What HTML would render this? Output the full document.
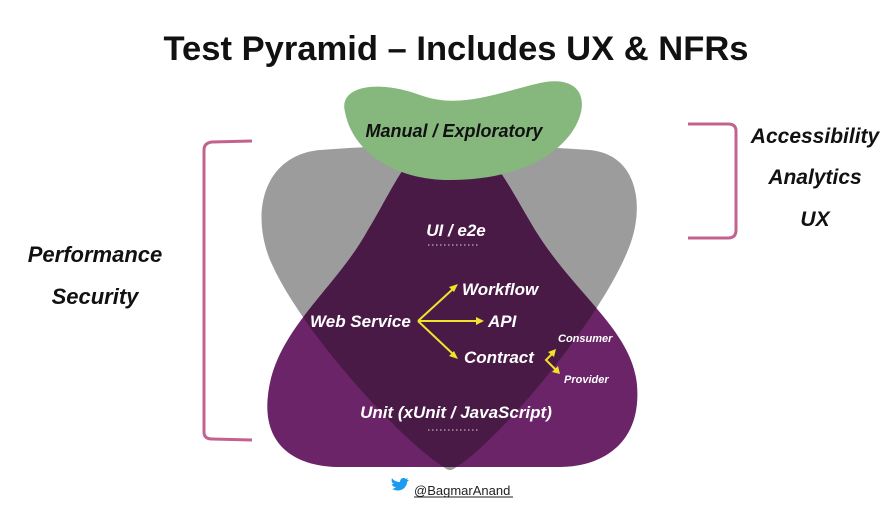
<!DOCTYPE html>
<html><head><meta charset="utf-8"><style>
body{margin:0;background:#fff;width:893px;height:515px;overflow:hidden;font-family:"Liberation Sans",sans-serif}
svg{display:block}
</style></head><body>
<svg width="893" height="515" viewBox="0 0 893 515" xmlns="http://www.w3.org/2000/svg">
<defs>
<path id="gray" d="M 320 150 Q 450 140 590 150 C 640 155 645 210 628 250 C 600 320 500 440 455 468 Q 450 472 445 468 C 400 440 300 330 270 260 C 250 210 265 155 320 150 Z"/>
<path id="purp" d="M 450 135 C 485 135 505 180 535 230 C 575 295 632 330 637 385 C 642 445 600 467 560 467 L 340 467 C 295 467 262 445 268 395 C 275 330 335 290 368 230 C 398 180 415 135 450 135 Z"/>
<clipPath id="cg"><use href="#gray"/></clipPath>
</defs>
<use href="#gray" fill="#9c9c9c"/>
<use href="#purp" fill="#6a2467"/>
<use href="#purp" fill="#4a1a47" clip-path="url(#cg)"/>
<path d="M 345 112 C 338 85 380 80 420 95 C 460 110 500 92 540 83 C 582 74 592 102 572 132 C 548 166 500 180 450 180 C 392 180 352 150 345 112 Z" fill="#86b87e"/>
<text x="456" y="60" text-anchor="middle" font-size="34" font-weight="bold" fill="#111" textLength="585" lengthAdjust="spacingAndGlyphs">Test Pyramid – Includes UX &amp; NFRs</text>
<path d="M 252 141 L 212 142 Q 204 143 204 150 L 204 432 Q 204 439 212 439 L 252 440" fill="none" stroke="#c4628f" stroke-width="3"/>
<path d="M 688 124 L 728 124 Q 736 124 736 131 L 736 230 Q 736 238 728 238 L 688 238" fill="none" stroke="#c4628f" stroke-width="3"/>
<g font-style="italic" font-weight="bold" font-size="21" fill="#111" text-anchor="middle">
<text x="815" y="143">Accessibility</text>
<text x="815" y="184">Analytics</text>
<text x="815" y="226">UX</text>
<text x="95" y="262" font-size="22">Performance</text>
<text x="95" y="304" font-size="22">Security</text>
<text x="454" y="137" font-size="18">Manual / Exploratory</text>
</g>
<g font-style="italic" font-weight="bold" fill="#fff">
<text x="456" y="236" font-size="17" text-anchor="middle">UI / e2e</text>
<text x="456" y="418" font-size="17" text-anchor="middle">Unit (xUnit / JavaScript)</text>
<text x="310" y="327" font-size="17">Web Service</text>
<text x="462" y="295" font-size="17">Workflow</text>
<text x="488" y="327" font-size="17">API</text>
<text x="464" y="363" font-size="17">Contract</text>
<text x="558" y="342" font-size="11">Consumer</text>
<text x="564" y="383" font-size="11">Provider</text>
</g>
<g stroke="#fff" stroke-width="1" stroke-dasharray="1.5 2.5" opacity="0.8">
<line x1="428" y1="245" x2="478" y2="245"/>
<line x1="428" y1="430" x2="478" y2="430"/>
</g>
<g stroke="#f3e22a" stroke-width="2" fill="none">
<path d="M 418 321 L 454 288 M 418 321 L 480 321 M 418 321 L 454 355"/>
<path d="M 552 354 L 546 360 L 556 370"/>
</g>
<g fill="#f3e22a">
<path d="M 458 284 L 449 287 L 454 292 Z"/>
<path d="M 484 321 L 476 317 L 476 325 Z"/>
<path d="M 458 359 L 449 356 L 454 351 Z"/>
<path d="M 556 349 L 548 352 L 554 357 Z"/>
<path d="M 560 374 L 552 372 L 558 366 Z"/>
</g>
<path d="M 392 489 C 396 491 400 491 403 489 C 406 487 407 484 407 482 L 409 480 L 407 480 L 408 478 L 406 479 C 404 477 400 478 400 482 C 396 482 393 480 392 478 C 391 481 392 483 394 484 L 392 484 C 392 486 394 487 396 487 C 395 488 393 489 392 489 Z" fill="#1d9bf0"/>
<text x="414" y="495" font-size="13" fill="#222">@BagmarAnand</text>
<line x1="414" y1="497" x2="513" y2="497" stroke="#222" stroke-width="1"/>
</svg>
</body></html>
